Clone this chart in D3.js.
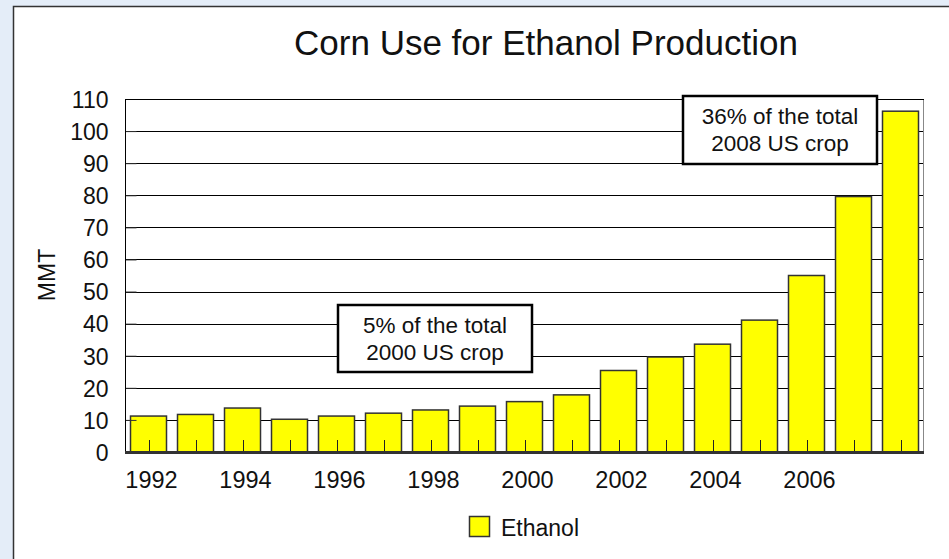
<!DOCTYPE html>
<html><head><meta charset="utf-8">
<script src="https://cdn.jsdelivr.net/npm/d3@7"></script>
<style>
html,body{margin:0;padding:0;background:#e4edf8;}
svg{display:block;font-family:"Liberation Sans",Arial,sans-serif;}
</style></head>
<body>
<svg id="chart" width="949" height="559"></svg>
<script>
const years = [1992,1993,1994,1995,1996,1997,1998,1999,2000,2001,2002,2003,2004,2005,2006,2007,2008];
const ethanol = [11.2,11.7,13.7,10.2,11.2,12.1,13.1,14.3,15.7,17.8,25.4,29.6,33.6,41.1,55.0,79.6,106.2];
const yTicks = [0,10,20,30,40,50,60,70,80,90,100,110];
const xLabelYears = [1992,1994,1996,1998,2000,2002,2004,2006];
const seriesName = "Ethanol";
const title = "Corn Use for Ethanol Production";
const yTitle = "MMT";
const notes = [
  {lines:["5% of the total","2000 US crop"], x0:338, y0:305, x1:532, y1:372},
  {lines:["36% of the total","2008 US crop"], x0:683, y0:96, x1:877, y1:164}
];

const svg = d3.select("#chart");
svg.append("rect").attr("x",13.5).attr("y",6.5).attr("width",1000).attr("height",1000)
  .attr("fill","#fff").attr("stroke","#333").attr("stroke-width",1.5);

const L=125,R=924,T=99,B=452;
const x = d3.scaleBand().domain(years).range([L,R]).paddingInner(10/47).paddingOuter(5/47);
const y = d3.scaleLinear().domain([0,110]).range([B,T]);

// gridlines
svg.append("g").selectAll("line").data(yTicks.filter(d=>d>0)).join("line")
  .attr("x1",L).attr("x2",R).attr("y1",d=>Math.round(y(d))+0.5).attr("y2",d=>Math.round(y(d))+0.5)
  .attr("stroke","#000").attr("stroke-width",1);
// right border
svg.append("line").attr("x1",R-0.5).attr("x2",R-0.5).attr("y1",T).attr("y2",B).attr("stroke","#888");

// bars
svg.append("g").selectAll("rect").data(years).join("rect")
  .attr("x",d=>x(d)+0.5).attr("width",x.bandwidth()-1)
  .attr("y",(d,i)=>y(ethanol[i])).attr("height",(d,i)=>B-y(ethanol[i]))
  .attr("fill","#ffff00").attr("stroke","#333").attr("stroke-width",1.5);

// x ticks at band centers
svg.append("g").selectAll("line").data(years).join("line")
  .attr("x1",d=>Math.round(x(d)+x.bandwidth()/2)+0.5).attr("x2",d=>Math.round(x(d)+x.bandwidth()/2)+0.5)
  .attr("y1",B-12).attr("y2",B).attr("stroke","#222").attr("stroke-width",1);

// y axis
const yAxis = d3.axisLeft(y).tickValues(yTicks).tickSize(-11).tickPadding(17);
const gy = svg.append("g").attr("transform",`translate(${L+0.5},0)`).call(yAxis);
gy.select(".domain").remove();
gy.selectAll(".tick line").attr("stroke","#333");
gy.selectAll(".tick text").attr("font-size",23).attr("fill","#111").attr("font-family","Liberation Sans, Arial, sans-serif").attr("dy","0.36em");
svg.append("line").attr("x1",L+0.5).attr("x2",L+0.5).attr("y1",T).attr("y2",B).attr("stroke","#000");
svg.append("line").attr("x1",L).attr("x2",R).attr("y1",T+0.5).attr("y2",T+0.5).attr("stroke","#000");

// x axis line
svg.append("line").attr("x1",L).attr("x2",R).attr("y1",B+0.5).attr("y2",B+0.5).attr("stroke","#333").attr("stroke-width",3);

// x labels
svg.append("g").selectAll("text").data(xLabelYears).join("text")
  .attr("x",d=>x(d)+x.bandwidth()/2+3).attr("y",488).attr("text-anchor","middle")
  .attr("font-size",23.5).attr("fill","#111").text(d=>d);

// y title
svg.append("text").attr("transform","translate(55,275) rotate(-90)").attr("text-anchor","middle")
  .attr("font-size",23).attr("fill","#111").text(yTitle);

// title
svg.append("text").attr("x",546).attr("y",55).attr("text-anchor","middle")
  .attr("font-size",35).attr("fill","#111").text(title);

// notes
notes.forEach(n=>{
  const g = svg.append("g");
  g.append("rect").attr("x",n.x0).attr("y",n.y0).attr("width",n.x1-n.x0).attr("height",n.y1-n.y0)
    .attr("fill","#fff").attr("stroke","#000").attr("stroke-width",2.5);
  const cx=(n.x0+n.x1)/2;
  n.lines.forEach((t,i)=>{
    g.append("text").attr("x",cx).attr("y",n.y0+28+i*26.5).attr("text-anchor","middle")
      .attr("font-size",22.5).attr("fill","#111").text(t);
  });
});

// legend
svg.append("rect").attr("x",469.5).attr("y",516.5).attr("width",20).attr("height",20)
  .attr("fill","#ffff00").attr("stroke","#333").attr("stroke-width",1.5);
svg.append("text").attr("x",501).attr("y",536).attr("font-size",23).attr("fill","#111").text(seriesName);
</script>
</body></html>
